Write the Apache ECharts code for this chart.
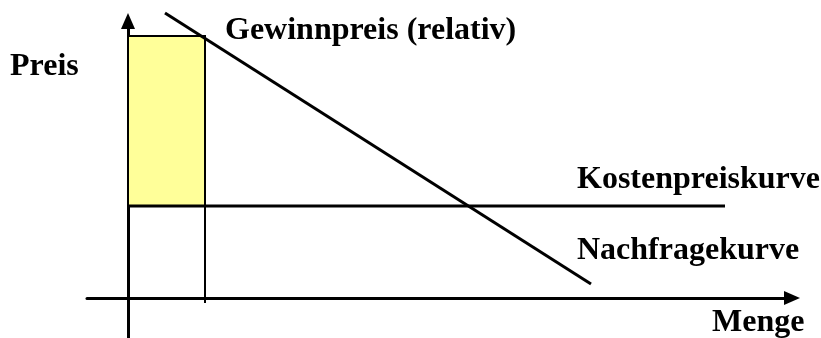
<!DOCTYPE html>
<html>
<head>
<meta charset="utf-8">
<script src="https://cdn.jsdelivr.net/npm/echarts@6/dist/echarts.min.js"></script>
<style>
  html, body { margin: 0; padding: 0; background: #fff; }
  #chart { width: 821px; height: 338px; }
</style>
</head>
<body>
<div id="chart"></div>
<script>
// Menge (x) / Preis (y), origin at the crossing of the axes
var xRange = [-41, 664];
var yRange = [-40, 277];
var demandCurve = [[37, 285], [463, 14]];
var costCurve = [[0, 92], [597, 92]];
var profitBox = [[0, 92], [77, 262]];
var boxEdge = [[77, -5], [77, 262]];
var labels = ['Preis', 'Menge', 'Gewinnpreis (relativ)', 'Kostenpreiskurve', 'Nachfragekurve'];

var chart = echarts.init(document.getElementById('chart'));
var font = '"Liberation Serif", "Times New Roman", serif';

function label(text, x, y) {
    return {
        type: 'text',
        left: x,
        top: y,
        style: {
            text: text,
            font: 'bold 32px ' + font,
            fill: '#000'
        }
    };
}

chart.setOption({
    animation: false,
    grid: { left: 87, right: 29, top: 21, bottom: 0 },
    xAxis: {
        type: 'value',
        min: xRange[0],
        max: xRange[1],
        splitLine: { show: false },
        axisTick: { show: false },
        axisLabel: { show: false },
        axisLine: {
            onZero: true,
            symbol: ['none', 'triangle'],
            symbolSize: [14, 16],
            lineStyle: { color: '#000', width: 3 }
        }
    },
    yAxis: {
        type: 'value',
        min: yRange[0],
        max: yRange[1],
        splitLine: { show: false },
        axisTick: { show: false },
        axisLabel: { show: false },
        axisLine: {
            onZero: true,
            symbol: ['none', 'triangle'],
            symbolSize: [14, 16],
            lineStyle: { color: '#000', width: 3 }
        }
    },
    series: [
        {
            type: 'line',
            data: boxEdge,
            symbol: 'none',
            lineStyle: { color: '#000', width: 2 },
            markArea: {
                silent: true,
                itemStyle: { color: '#FFFF99', borderColor: '#000', borderWidth: 2 },
                data: [[{ coord: profitBox[0] }, { coord: profitBox[1] }]]
            },
            z: 1
        },
        {
            type: 'line',
            data: costCurve,
            symbol: 'none',
            clip: false,
            lineStyle: { color: '#000', width: 3 },
            z: 3
        },
        {
            type: 'line',
            data: demandCurve,
            symbol: 'none',
            clip: false,
            lineStyle: { color: '#000', width: 3 },
            z: 3
        }
    ],
    graphic: [
        label(labels[0], 10, 51),
        label(labels[1], 712, 307),
        label(labels[2], 225, 15),
        label(labels[3], 577, 164),
        label(labels[4], 577, 235)
    ]
});
</script>
</body>
</html>
